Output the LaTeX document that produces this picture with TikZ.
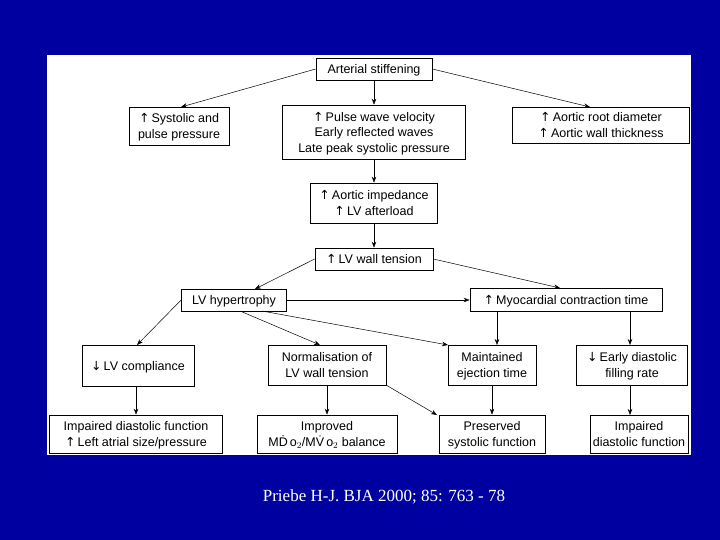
\documentclass[tikz,border=0pt]{standalone}
\usepackage{fontspec}
\setmainfont{Liberation Sans}
\newfontfamily\timesf{Liberation Serif}
\newfontfamily\dejav{DejaVu Sans}
\newcommand{\up}{{\dejav\char"2191}\,}
\newcommand{\dn}{{\dejav\char"2193}\,}
\usetikzlibrary{arrows.meta}
\definecolor{bg}{HTML}{0000A0}
\begin{document}
\begin{tikzpicture}[x=1pt,y=-1pt,
  bx/.style={draw,line width=0.7pt,align=center,font=\fontsize{12.5}{15.5}\selectfont,inner sep=1pt,text depth=0pt},
  ar/.style={-{Stealth[length=6pt,width=4.5pt]},line width=0.5pt}]
\fill[bg] (0,0) rectangle (720,540);
\fill[white] (47,55) rectangle (691,455);
\node[bx,minimum width=116,minimum height=22] (as) at (374,69) {Arterial stiffening};
\node[bx,minimum width=100,minimum height=38] (sp) at (179,126) {\up Systolic and\\pulse pressure};
\node[bx,minimum width=183,minimum height=54] (pw) at (374,132) {\up Pulse wave velocity\\Early reflected waves\\Late peak systolic pressure};
\node[bx,minimum width=177,minimum height=36] (ar) at (601,125) {\up Aortic root diameter\\\up Aortic wall thickness};
\node[bx,minimum width=127,minimum height=40] (ai) at (374,203) {\up Aortic impedance\\\up LV afterload};
\node[bx,minimum width=118,minimum height=22] (wt) at (374,259) {\up LV wall tension};
\node[bx,minimum width=105,minimum height=22] (lh) at (234,300) {LV hypertrophy};
\node[bx,minimum width=192,minimum height=23] (mc) at (566,300) {\up Myocardial contraction time};
\node[bx,minimum width=112,minimum height=41] (lc) at (138,366) {\dn LV compliance};
\node[bx,minimum width=118,minimum height=40] (nl) at (327,365) {Normalisation of\\LV wall tension};
\node[bx,minimum width=88,minimum height=40] (me) at (492,365) {Maintained\\ejection time};
\node[bx,minimum width=111,minimum height=40] (ed) at (632,365) {\dn Early diastolic\\filling rate};
\node[bx,minimum width=173,minimum height=38] (id) at (136,434) {Impaired diastolic function\\\up Left atrial size/pressure};
\node[bx,minimum width=140,minimum height=38] (im) at (327,434) {Improved\\M\.D\,o$_2$/M\.V\,o$_2$ balance};
\node[bx,minimum width=106,minimum height=38] (ps) at (492,434) {Preserved\\systolic function};
\node[bx,minimum width=98,minimum height=38] (id2) at (639,434) {Impaired\\diastolic function};
\draw[ar] (as.west) -- (181,107);
\draw[ar] (as.east) -- (590,107);
\draw[ar] (as) -- (pw);
\draw[ar] (pw) -- (ai);
\draw[ar] (ai) -- (wt);
\draw[ar] (wt.west) -- (255,289);
\draw[ar] (wt.east) -- (560,288);
\draw[ar] (lh) -- (mc);
\draw[ar] (lh.west) -- (137,345);
\draw[ar] (240,311) -- (320,345);
\draw[ar] (262,311) -- (448,345);
\draw[ar] (497,311) -- (497,345);
\draw[ar] (630,311) -- (630,345);
\draw[ar] (386,385) -- (437,415);
\draw[ar] (lc.south -| id.north) -- (id.north);
\draw[ar] (nl) -- (im);
\draw[ar] (me) -- (ps);
\draw[ar] (630,385) -- (630,415);
\node[text=white,font=\timesf\fontsize{17}{20}\selectfont] (cap) at (384,497) {Priebe H-J. BJA 2000; 85: 763 - 78};
\end{tikzpicture}
\end{document}
